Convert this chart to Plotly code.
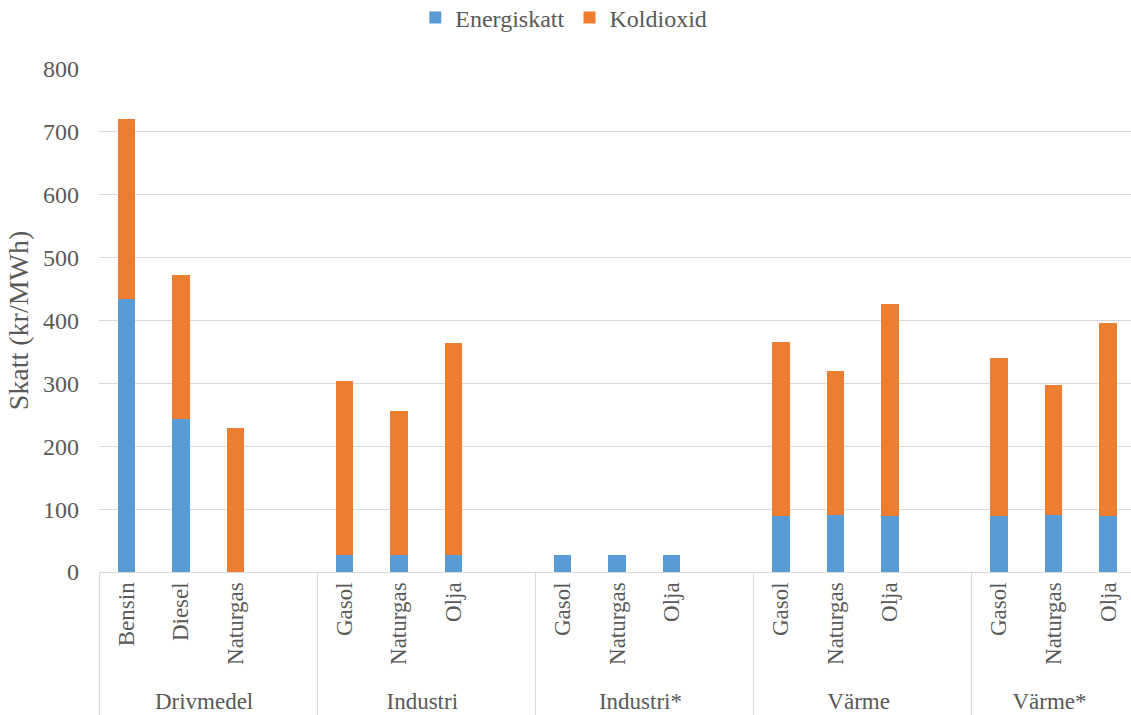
import plotly.graph_objects as go

groups = ["Drivmedel"] * 4 + ["Industri"] * 4 + ["Industri*"] * 4 + ["Värme"] * 4 + ["Värme*"] * 3
fuels = ["Bensin", "Diesel", "Naturgas", " ",
         "Gasol", "Naturgas", "Olja", " ",
         "Gasol", "Naturgas", "Olja", " ",
         "Gasol", "Naturgas", "Olja", " ",
         "Gasol", "Naturgas", "Olja"]
energiskatt = [434, 244, 0, None,
               27, 27, 27, None,
               27, 27, 27, None,
               89, 90, 89, None,
               89, 90, 89]
koldioxid = [287, 228, 229, None,
             277, 229, 338, None,
             0, 0, 0, None,
             277, 229, 338, None,
             252, 208, 307]

# Plotly orders multicategory sub-labels by first appearance across the data,
# so feed the points in an order that is consistent with every group's order.
fuel_rank = {"Bensin": 0, "Diesel": 1, "Gasol": 2, "Naturgas": 3, "Olja": 4, " ": 5}
order = sorted(range(len(fuels)), key=lambda i: fuel_rank[fuels[i]])
g_x = [groups[i] for i in order]
f_x = [fuels[i] for i in order]
e_y = [energiskatt[i] for i in order]
k_y = [koldioxid[i] for i in order]

FONT = "Liberation Serif, Times New Roman, serif"
GREY = "#595959"
FS = 24

fig = go.Figure()
fig.add_trace(go.Bar(x=[g_x, f_x], y=e_y, name="Energiskatt",
                     marker=dict(color="#5B9BD5", line=dict(width=0))))
fig.add_trace(go.Bar(x=[g_x, f_x], y=k_y, name="Koldioxid",
                     marker=dict(color="#ED7D31", line=dict(width=0))))

fig.update_layout(
    barmode="stack",
    bargap=0.68,
    width=1131, height=715,
    margin=dict(l=99, r=0, t=69, b=143, autoexpand=False),
    plot_bgcolor="white", paper_bgcolor="white",
    font=dict(family=FONT, size=FS, color=GREY),
    legend=dict(orientation="h", x=0.4985, xref="container", xanchor="center",
                y=1 - 18 / 715, yref="container", yanchor="middle",
                font=dict(family=FONT, size=FS, color=GREY), traceorder="normal",
                itemwidth=30),
    showlegend=True,
)
fig.update_yaxes(range=[0, 800], dtick=100, showgrid=True, gridcolor="#D9D9D9", gridwidth=1.3,
                 zeroline=False, showline=False, ticks="", ticklabelstandoff=19,
                 title=dict(text="Skatt (kr/MWh)", standoff=6,
                            font=dict(family=FONT, size=28, color=GREY)),
                 tickfont=dict(family=FONT, size=FS, color=GREY))
fig.update_xaxes(type="multicategory", showline=True, linecolor="#D9D9D9", linewidth=1.3,
                 tickangle=-90, showdividers=True, dividercolor="#D9D9D9", dividerwidth=1.3,
                 ticks="",
                 tickfont=dict(family=FONT, size=23, color=GREY), range=[-0.5, 18.42])

fig.write_html("out.html")
